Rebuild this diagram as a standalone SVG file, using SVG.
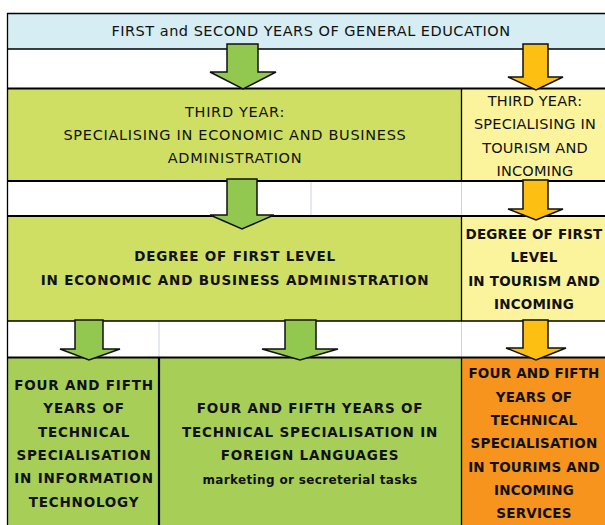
<svg xmlns="http://www.w3.org/2000/svg" width="605" height="525" viewBox="0 0 605 525">
<style>
.t{font-family:"DejaVu Sans","Liberation Sans",sans-serif;fill:#111;text-anchor:middle}
.h{font-size:14.5px;letter-spacing:0.5px}
.r{font-size:14.5px;letter-spacing:0.7px}
.b{font-size:13.5px;font-weight:bold;letter-spacing:0.8px}
.n{letter-spacing:0.2px}
.s{font-size:12px;font-weight:bold;letter-spacing:0.35px}
.grid{stroke:#cdd3dd;stroke-width:1}
.thick{stroke:#000;stroke-width:2.2}
.thin{stroke:#000;stroke-width:1.3}
.ga{fill:#92c750;stroke:#111;stroke-width:1.5;stroke-linejoin:miter}
.ya{fill:#fdbf12;stroke:#111;stroke-width:1.5;stroke-linejoin:miter}
</style>
<rect width="605" height="525" fill="#fff"/>
<g id="top">
<rect x="8" y="13" width="597" height="36" fill="#d5edf3"/>
<text class="t h" x="311" y="36">FIRST and SECOND YEARS OF GENERAL EDUCATION</text>
</g>
<g id="third-econ">
<rect x="8" y="89" width="453" height="92" fill="#cfdf64"/>
<text class="t r" x="235" y="117">THIRD YEAR:</text>
<text class="t r" x="235" y="140">SPECIALISING IN ECONOMIC AND BUSINESS</text>
<text class="t r" x="235" y="163">ADMINISTRATION</text>
</g>
<g id="third-tourism">
<rect x="461" y="89" width="144" height="92" fill="#fcf49d"/>
<text class="t r n" x="535" y="106">THIRD YEAR:</text>
<text class="t r n" x="535" y="129">SPECIALISING IN</text>
<text class="t r n" x="535" y="153">TOURISM AND</text>
<text class="t r n" x="535" y="176">INCOMING</text>
</g>
<g id="degree-econ">
<rect x="8" y="216" width="453" height="105" fill="#cfdf64"/>
<text class="t b" x="235" y="261">DEGREE OF FIRST LEVEL</text>
<text class="t b" x="235" y="285">IN ECONOMIC AND BUSINESS ADMINISTRATION</text>
</g>
<g id="degree-tourism">
<rect x="461" y="216" width="144" height="105" fill="#fcf49d"/>
<text class="t b n" x="534" y="239">DEGREE OF FIRST</text>
<text class="t b n" x="534" y="262">LEVEL</text>
<text class="t b n" x="534" y="286">IN TOURISM AND</text>
<text class="t b n" x="534" y="309">INCOMING</text>
</g>
<g id="it">
<rect x="8" y="357" width="151" height="168" fill="#a7cf58"/>
<text class="t b" x="84" y="390">FOUR AND FIFTH</text>
<text class="t b" x="84" y="413">YEARS OF</text>
<text class="t b" x="84" y="437">TECHNICAL</text>
<text class="t b" x="84" y="460">SPECIALISATION</text>
<text class="t b" x="84" y="483">IN INFORMATION</text>
<text class="t b" x="84" y="507">TECHNOLOGY</text>
</g>
<g id="languages">
<rect x="159" y="357" width="302" height="168" fill="#a7cf58"/>
<text class="t b" x="310" y="413">FOUR AND FIFTH YEARS OF</text>
<text class="t b" x="310" y="437">TECHNICAL SPECIALISATION IN</text>
<text class="t b" x="310" y="460">FOREIGN LANGUAGES</text>
<text class="t s" x="310" y="484">marketing or secreterial tasks</text>
</g>
<g id="tourism-services">
<rect x="461" y="357" width="144" height="168" fill="#f7941d"/>
<text class="t b n" x="534" y="378">FOUR AND FIFTH</text>
<text class="t b n" x="534" y="402">YEARS OF</text>
<text class="t b n" x="534" y="425">TECHNICAL</text>
<text class="t b n" x="534" y="448">SPECIALISATION</text>
<text class="t b n" x="534" y="472">IN TOURIMS AND</text>
<text class="t b n" x="534" y="495">INCOMING</text>
<text class="t b n" x="534" y="518">SERVICES</text>
</g>
<g id="lines">
<line class="grid" x1="311" y1="181" x2="311" y2="216"/>
<line class="grid" x1="461.5" y1="181" x2="461.5" y2="216"/>
<line class="grid" x1="159" y1="321" x2="159" y2="357"/>
<line class="grid" x1="461.5" y1="321" x2="461.5" y2="357"/>
<line class="thin" x1="7" y1="13.5" x2="605" y2="13.5"/>
<line class="thin" x1="7" y1="49" x2="605" y2="49"/>
<line class="thick" x1="7" y1="88.5" x2="605" y2="88.5"/>
<line class="thick" x1="7" y1="181" x2="605" y2="181"/>
<line class="thick" x1="7" y1="216" x2="605" y2="216"/>
<line class="thin" x1="7" y1="321" x2="605" y2="321"/>
<line class="thick" x1="7" y1="357.5" x2="605" y2="357.5"/>
<line class="thin" x1="7.5" y1="13" x2="7.5" y2="525"/>
<line class="thin" x1="461.5" y1="88" x2="461.5" y2="181"/>
<line class="thin" x1="461.5" y1="216" x2="461.5" y2="321"/>
<line class="thick" x1="159" y1="357" x2="159" y2="525"/>
<line class="thin" x1="461.5" y1="357" x2="461.5" y2="525"/>
</g>
<g id="connectors">
<path class="ga" d="M227,44 H258 V72 H276 L243,89 L210,72 H227 Z"/>
<path class="ya" d="M523,44 H548 V77 H563 L536,90 L508,77 H523 Z"/>
<path class="ga" d="M227,179 H257 V215 H274 L242,229 L210,215 H227 Z"/>
<path class="ya" d="M523,180 H548 V209 H563 L536,220 L508,209 H523 Z"/>
<path class="ga" d="M75,320 H103 V349 H120 L89,360 L60,349 H75 Z"/>
<path class="ga" d="M285,320 H316 V349 H338 L300,360 L262,349 H285 Z"/>
<path class="ya" d="M523,320 H548 V348 H566 L536,360 L506,348 H523 Z"/>
</g>
</svg>
